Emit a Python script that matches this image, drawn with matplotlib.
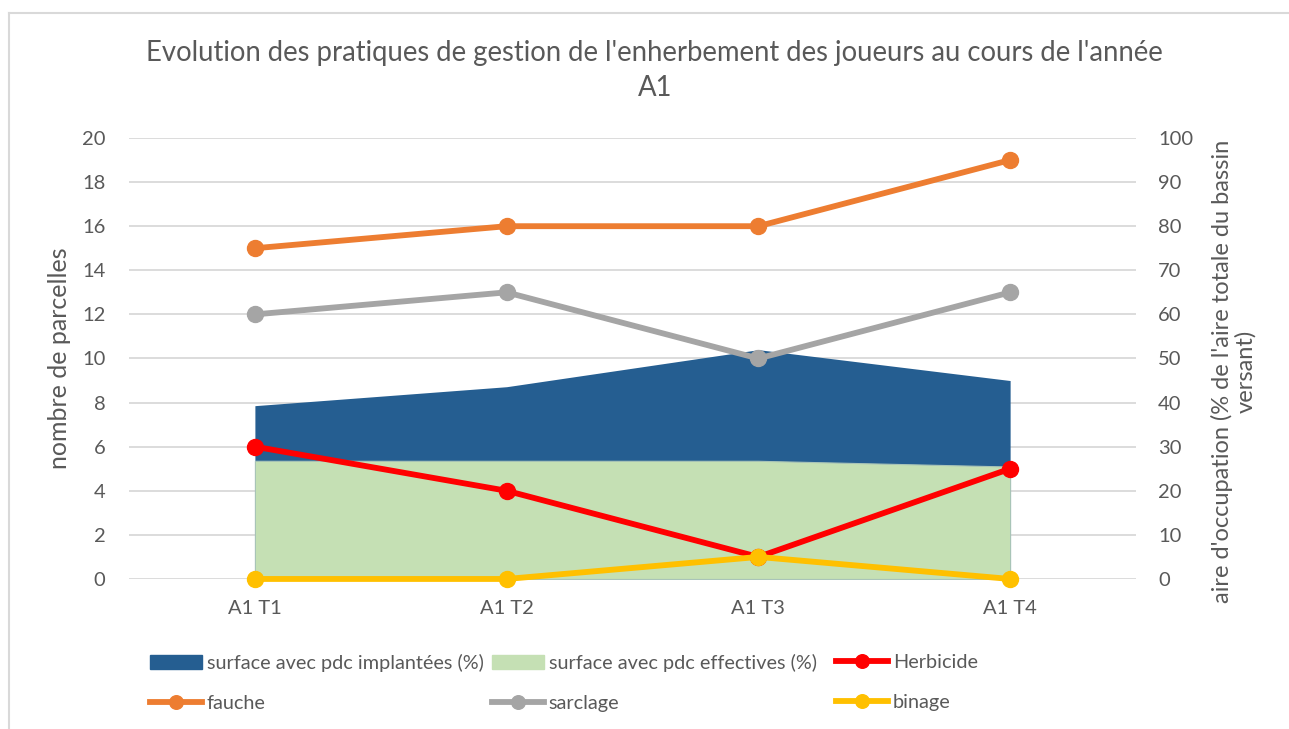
import matplotlib
matplotlib.use("Agg")
import matplotlib.pyplot as plt
from matplotlib.lines import Line2D
from matplotlib.patches import Patch

plt.rcParams['font.family'] = ['Lato', 'DejaVu Sans']

categories = ["A1 T1", "A1 T2", "A1 T3", "A1 T4"]
implantees = [39.3, 43.6, 52.0, 45.0]
effectives = [26.8, 26.8, 26.8, 25.5]
herbicide = [6, 4, 1, 5]
fauche = [15, 16, 16, 19]
sarclage = [12, 13, 10, 13]
binage = [0, 0, 1, 0]

TXT = '#595959'
GRID = '#D9D9D9'

fig = plt.figure(figsize=(12.89, 7.29), dpi=100)
ax = fig.add_axes([0.1001, 0.2058, 0.7812, 0.6049])
ax2 = ax.twinx()

x = list(range(len(categories)))

# areas on the secondary (percentage) axis, drawn behind the lines
ax2.fill_between(x, implantees, color='#255E91', lw=0, zorder=1)
ax2.fill_between(x, effectives, color='#C5E0B4', lw=0.8, edgecolor='#A9C4B8', zorder=2)
ax2.set_ylim(0, 100)
ax2.set_yticks(range(0, 101, 10))
ax2.grid(axis='y', color=GRID, lw=1.3)
ax2.set_axisbelow(True)

ax.set_zorder(ax2.get_zorder() + 1)
ax.patch.set_visible(False)

lw, ms = 4.2, 11.5
series = [(herbicide, '#FF0000'), (fauche, '#ED7D31'), (sarclage, '#A5A5A5'), (binage, '#FFC000')]
for vals, col in series:
    ax.plot(x, vals, color=col, lw=lw, marker='o', ms=ms, zorder=5, clip_on=False)

ax.set_ylim(0, 20)
ax.set_yticks(range(0, 21, 2))
ax.set_xlim(-0.5, 3.5)
ax.set_xticks(x)
ax.set_xticklabels(categories)

for a in (ax, ax2):
    for s in a.spines.values():
        s.set_visible(False)
    a.tick_params(length=0, colors=TXT, labelsize=14.5)
ax.tick_params(axis='y', pad=17)
ax.tick_params(axis='x', pad=15)
ax2.tick_params(axis='y', pad=16)

ax.set_ylabel("nombre de parcelles", color=TXT, fontsize=18, labelpad=8)
ax2.set_ylabel("aire d'occupation (% de l'aire totale du bassin\nversant)", color=TXT,
               fontsize=17, linespacing=1.1)
ax2.yaxis.set_label_coords(1.074, 0.47)

fig.text(0.508, 0.903, "Evolution des pratiques de gestion de l'enherbement des joueurs au cours de l'année\nA1",
         ha='center', va='center', color=TXT, fontsize=19.8, linespacing=1.45)

# legend laid out in three columns of two entries
def lh(col):
    return Line2D([], [], color=col, lw=lw, marker='o', ms=ms * 0.85)

cols = [
    ([Patch(color='#255E91'), lh('#ED7D31')], ["surface avec pdc implantées (%)", "fauche"], 0.1164),
    ([Patch(color='#C5E0B4'), lh('#A5A5A5')], ["surface avec pdc effectives (%)", "sarclage"], 0.3817),
    ([lh('#FF0000'), lh('#FFC000')], ["Herbicide", "binage"], 0.6486),
]
for hs, ls, xpos in cols:
    fig.legend(hs, ls, loc='upper left', bbox_to_anchor=(xpos, 0.103), frameon=False,
               fontsize=14.3, labelcolor=TXT, handlelength=2.6, handleheight=0.7,
               handletextpad=0.25, labelspacing=1.15, borderpad=0, borderaxespad=0)

# chart frame
fig.add_artist(Line2D([0.007, 0.007], [0, 0.982], color=GRID, lw=1.5, transform=fig.transFigure))
fig.add_artist(Line2D([0.007, 1.0], [0.982, 0.982], color=GRID, lw=1.5, transform=fig.transFigure))

fig.savefig("out.png", dpi=100)
